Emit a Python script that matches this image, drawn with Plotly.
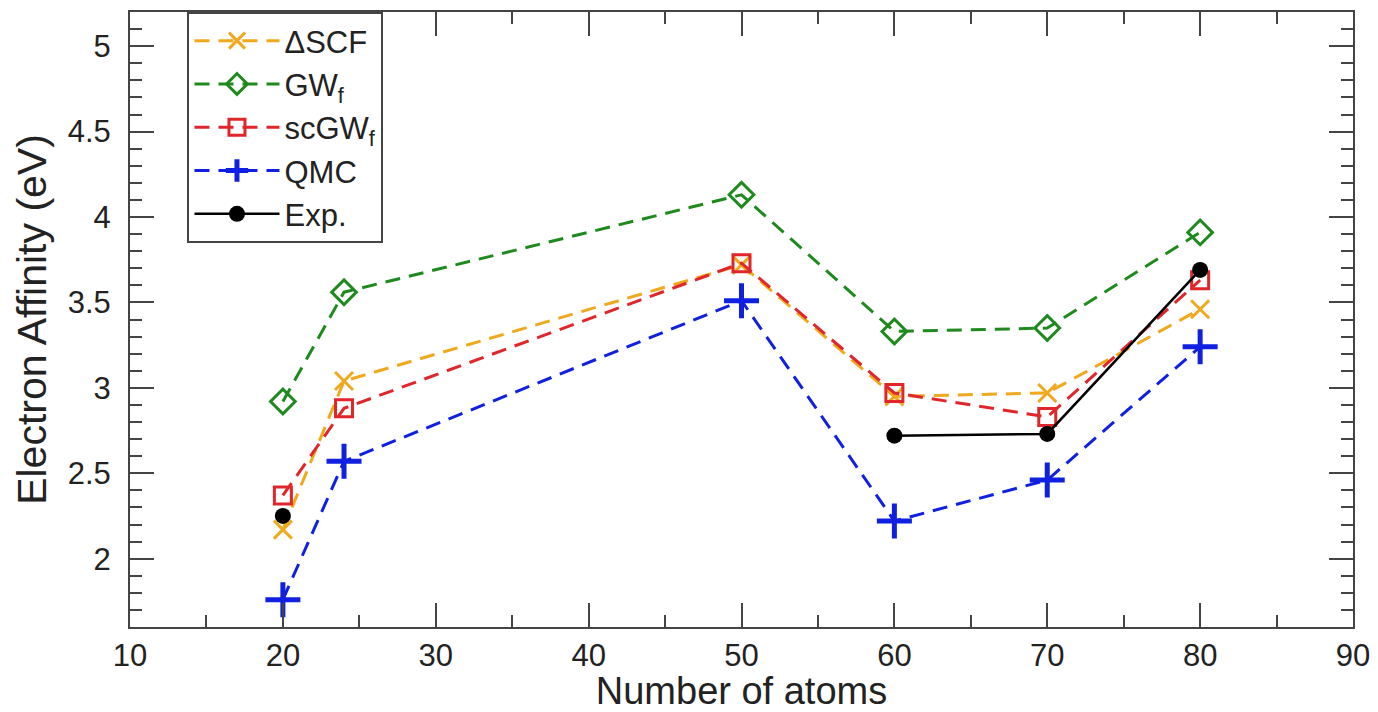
import plotly.graph_objects as go

atoms = [20, 24, 50, 60, 70, 80]
dscf = [2.17, 3.04, 3.72, 2.95, 2.97, 3.46]
gwf = [2.92, 3.56, 4.13, 3.33, 3.35, 3.91]
scgwf = [2.37, 2.88, 3.73, 2.97, 2.83, 3.63]
qmc = [1.76, 2.57, 3.51, 2.22, 2.46, 3.24]
exp_vals = [2.25, None, None, 2.72, 2.73, 3.69]

names = ["ΔSCF", "GW<sub>f</sub>", "scGW<sub>f</sub>", "QMC", "Exp."]

FONT = "Liberation Sans, Arial"
fig = go.Figure()
DASH = "15px,9px"
fig.add_trace(go.Scatter(x=atoms, y=dscf, name=names[0], mode="lines+markers",
    line=dict(color="#F0A81C", width=3, dash=DASH),
    marker=dict(symbol="x-thin-open", size=18, line=dict(color="#F0A81C", width=3))))
fig.add_trace(go.Scatter(x=atoms, y=gwf, name=names[1], mode="lines+markers",
    line=dict(color="#1E8A1E", width=3, dash=DASH),
    marker=dict(symbol="diamond-open", size=19, color="#1E8A1E", line=dict(color="#1E8A1E", width=3))))
fig.add_trace(go.Scatter(x=atoms, y=scgwf, name=names[2], mode="lines+markers",
    line=dict(color="#E0262A", width=3, dash=DASH),
    marker=dict(symbol="square-open", size=17, color="#E0262A", line=dict(color="#E0262A", width=3))))
fig.add_trace(go.Scatter(x=atoms, y=qmc, name=names[3], mode="lines+markers",
    line=dict(color="#1020E0", width=3, dash=DASH),
    marker=dict(symbol="cross-thin-open", size=25, line=dict(color="#1020E0", width=5))))
fig.add_trace(go.Scatter(x=atoms, y=exp_vals, name=names[4], mode="lines+markers",
    connectgaps=False,
    line=dict(color="black", width=2.5),
    marker=dict(symbol="circle", size=16, color="black")))

axis_common = dict(showline=True, linecolor="#444", linewidth=2, mirror="ticks",
                   ticks="inside", tickcolor="#444", tickwidth=2, ticklen=24,
                   showgrid=False, zeroline=False,
                   tickfont=dict(family=FONT, size=31, color="#222"))

fig.update_xaxes(range=[10, 90], tick0=10, dtick=10,
                 minor=dict(ticks="inside", dtick=5, ticklen=12, tickwidth=2, tickcolor="#444"),
                 title=dict(text="Number of atoms", standoff=0,
                            font=dict(family=FONT, size=38, color="#222")),
                 **axis_common)
fig.update_yaxes(range=[1.6, 5.2], tick0=2, dtick=0.5, ticklabelstandoff=11,
                 minor=dict(ticks="inside", dtick=0.1, ticklen=12, tickwidth=2, tickcolor="#444"),
                 title=dict(text="Electron Affinity (eV)", standoff=8,
                            font=dict(family=FONT, size=41, color="#222")),
                 **axis_common)

fig.update_layout(
    width=1370, height=704,
    margin=dict(l=122, r=25, t=4, b=85, autoexpand=False),
    plot_bgcolor="white", paper_bgcolor="white",
    font=dict(family=FONT, color="#222"),
    legend=dict(x=0.047, y=1.0, xanchor="left", yanchor="top",
                bordercolor="#444", borderwidth=2, bgcolor="white",
                font=dict(size=31, color="#222"), itemwidth=85,
                tracegroupgap=0),
    showlegend=True,
)

fig.write_html("out.html")
